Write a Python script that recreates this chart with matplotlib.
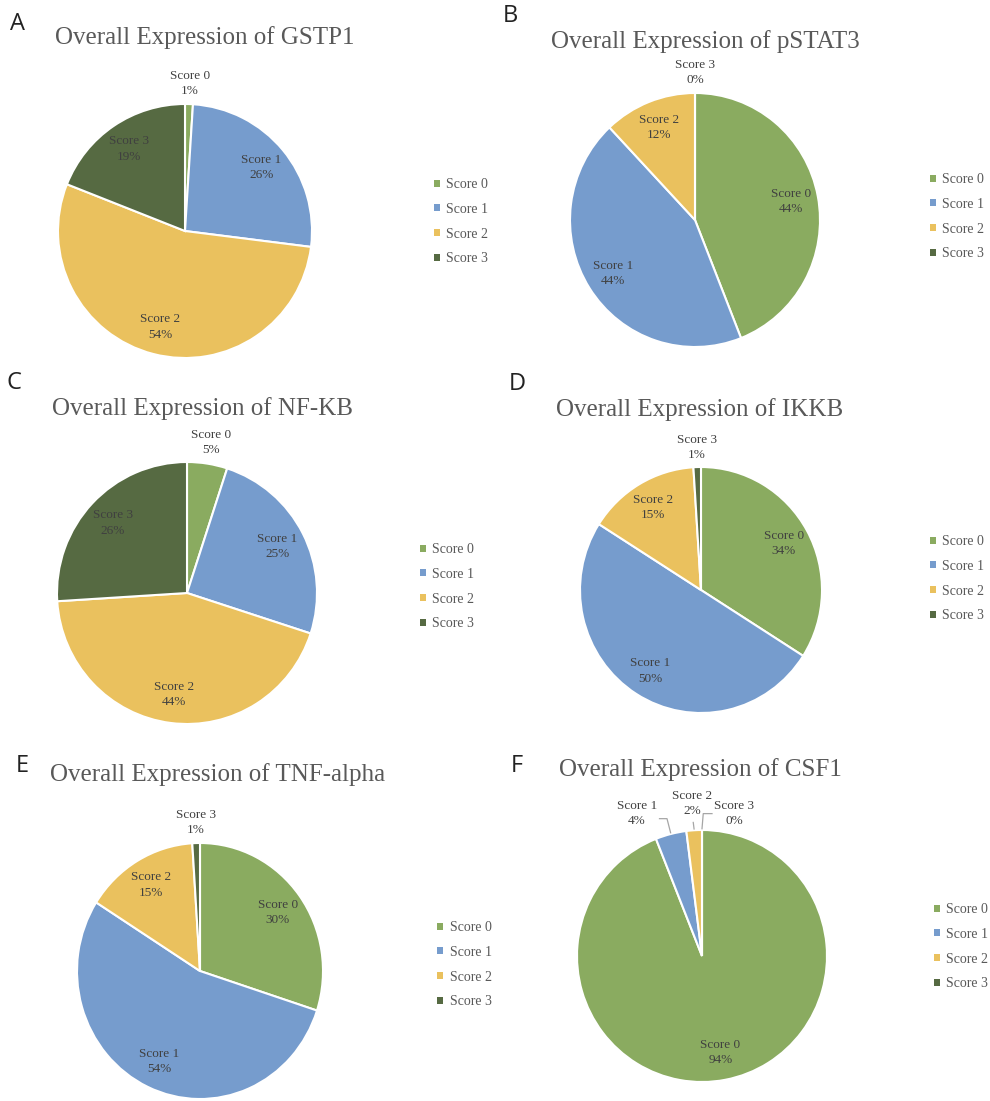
import numpy as np
import matplotlib.pyplot as plt
from matplotlib.patches import Patch

W, H = 990, 1101

scores = ['Score 0', 'Score 1', 'Score 2', 'Score 3']
colors = ['#8aab60', '#769ccd', '#eac15e', '#566a42']

panel_letters = ['A', 'B', 'C', 'D', 'E', 'F']
markers = ['GSTP1', 'pSTAT3', 'NF-KB', 'IKKB', 'TNF-alpha', 'CSF1']

gstp1 = [1, 26, 54, 19]
pstat3 = [44, 44, 12, 0]
nfkb = [5, 25, 44, 26]
ikkb = [34, 50, 15, 1]
tnf_alpha = [30, 54, 15, 1]
csf1 = [94, 4, 2, 0]
values = [gstp1, pstat3, nfkb, ikkb, tnf_alpha, csf1]

# layout in pixels: pie centre and x/y radius, title centre, letter, legend
pies = [(185, 231, 127, 127), (695, 220, 125, 127), (187, 593, 130, 131),
        (701, 590, 121, 123), (200, 971, 123, 128), (702, 956, 125, 126)]
titles = [(205, 38), (705, 42), (202, 409), (700, 410), (218, 775), (700, 770)]
letters = [(18, 24), (510, 16), (14, 383), (517, 384), (22, 766), (517, 766)]
legends = [(434, 186), (930, 181), (420, 551), (930, 543), (437, 929), (934, 911)]

# outside labels of the CSF1 pie: label centre and leader-line elbow (pie units)
csf1_outside = {1: ((-0.52, 1.13), (-0.28, 1.09), (-0.34, 1.09)),
                2: ((-0.08, 1.21), (-0.07, 1.06), None),
                3: ((0.26, 1.13), (0.01, 1.13), (0.08, 1.13))}

label_color = '#404040'
title_color = '#595959'
serif = 'Liberation Serif'

fig = plt.figure(figsize=(W / 100, H / 100), dpi=100)
fig.patch.set_facecolor('white')

for i in range(6):
    cx, cy, rx, ry = pies[i]
    sx, sy = rx * 1.5, ry * 1.5
    ax = fig.add_axes([(cx - sx) / W, 1 - (cy + sy) / H, 2 * sx / W, 2 * sy / H])
    wedges, _ = ax.pie(values[i], colors=colors, startangle=90, counterclock=False,
                       radius=1, wedgeprops=dict(edgecolor='white', linewidth=1.5))
    ax.set_aspect('auto')
    ax.set_xlim(-1.5, 1.5)
    ax.set_ylim(-1.5, 1.5)
    ax.set_axis_off()

    for j, w in enumerate(wedges):
        v = values[i][j]
        mid = np.deg2rad((w.theta1 + w.theta2) / 2)
        txt = f'{scores[j]}\n{v}%'
        if markers[i] == 'CSF1' and j > 0:
            (tx, ty), (ex, ey), end = csf1_outside[j]
            path = [(1.01 * np.cos(mid), 1.01 * np.sin(mid)), (ex, ey)]
            if end is not None:
                path.append(end)
            px, py = zip(*path)
            ax.plot(px, py, color='#a6a6a6', lw=0.9)
            ax.text(tx, ty, txt, ha='center', va='center', fontsize=9.5,
                    family=serif, color=label_color, linespacing=1.35)
            continue
        d = 0.78 if v >= 10 else 1.16
        ax.text(d * np.cos(mid), d * np.sin(mid), txt, ha='center', va='center',
                fontsize=9.5, family=serif, color=label_color, linespacing=1.35)

    tx, ty = titles[i]
    fig.text(tx / W, 1 - ty / H, f'Overall Expression of {markers[i]}',
             ha='center', va='center', fontsize=18, family=serif, color=title_color)
    lx, ly = letters[i]
    fig.text(lx / W, 1 - ly / H, panel_letters[i], ha='center', va='center',
             fontsize=17, family='Open Sans', color='#222222')

    gx, gy = legends[i]
    handles = [Patch(facecolor=c, edgecolor='none') for c in colors]
    fig.legend(handles, scores, loc='upper left',
               bbox_to_anchor=(gx / W, 1 - (gy - 8) / H), frameon=False,
               handlelength=0.4, handleheight=0.4, handletextpad=0.5,
               labelspacing=0.85, borderpad=0, borderaxespad=0,
               prop=dict(family=serif, size=10), labelcolor=title_color)

fig.savefig('out.png', dpi=100, facecolor='white')
